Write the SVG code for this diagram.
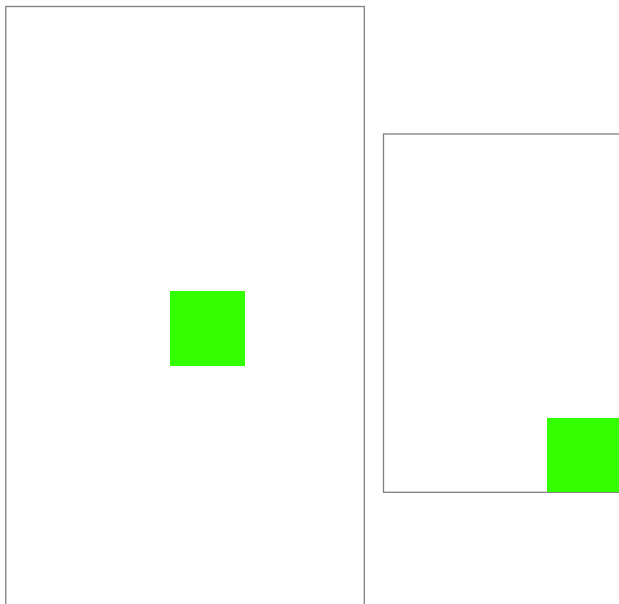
<svg xmlns="http://www.w3.org/2000/svg" width="619" height="604" viewBox="0 0 619 604">
<style>
.frame{fill:none;stroke:#808080;stroke-width:1.3}
.block{fill:#33ff00}
</style>
<rect width="619" height="604" fill="#ffffff"/>
<g id="panel-left">
<rect class="frame" x="5.8" y="6.5" width="358.5" height="620"/>
<rect id="block-left" class="block" x="170" y="291" width="75" height="75"/>
</g>
<g id="panel-right">
<rect class="frame" x="383.5" y="134" width="260" height="358.3"/>
<rect id="block-right" class="block" x="547" y="418" width="75" height="74"/>
</g>
<g id="connectors"></g>
</svg>
